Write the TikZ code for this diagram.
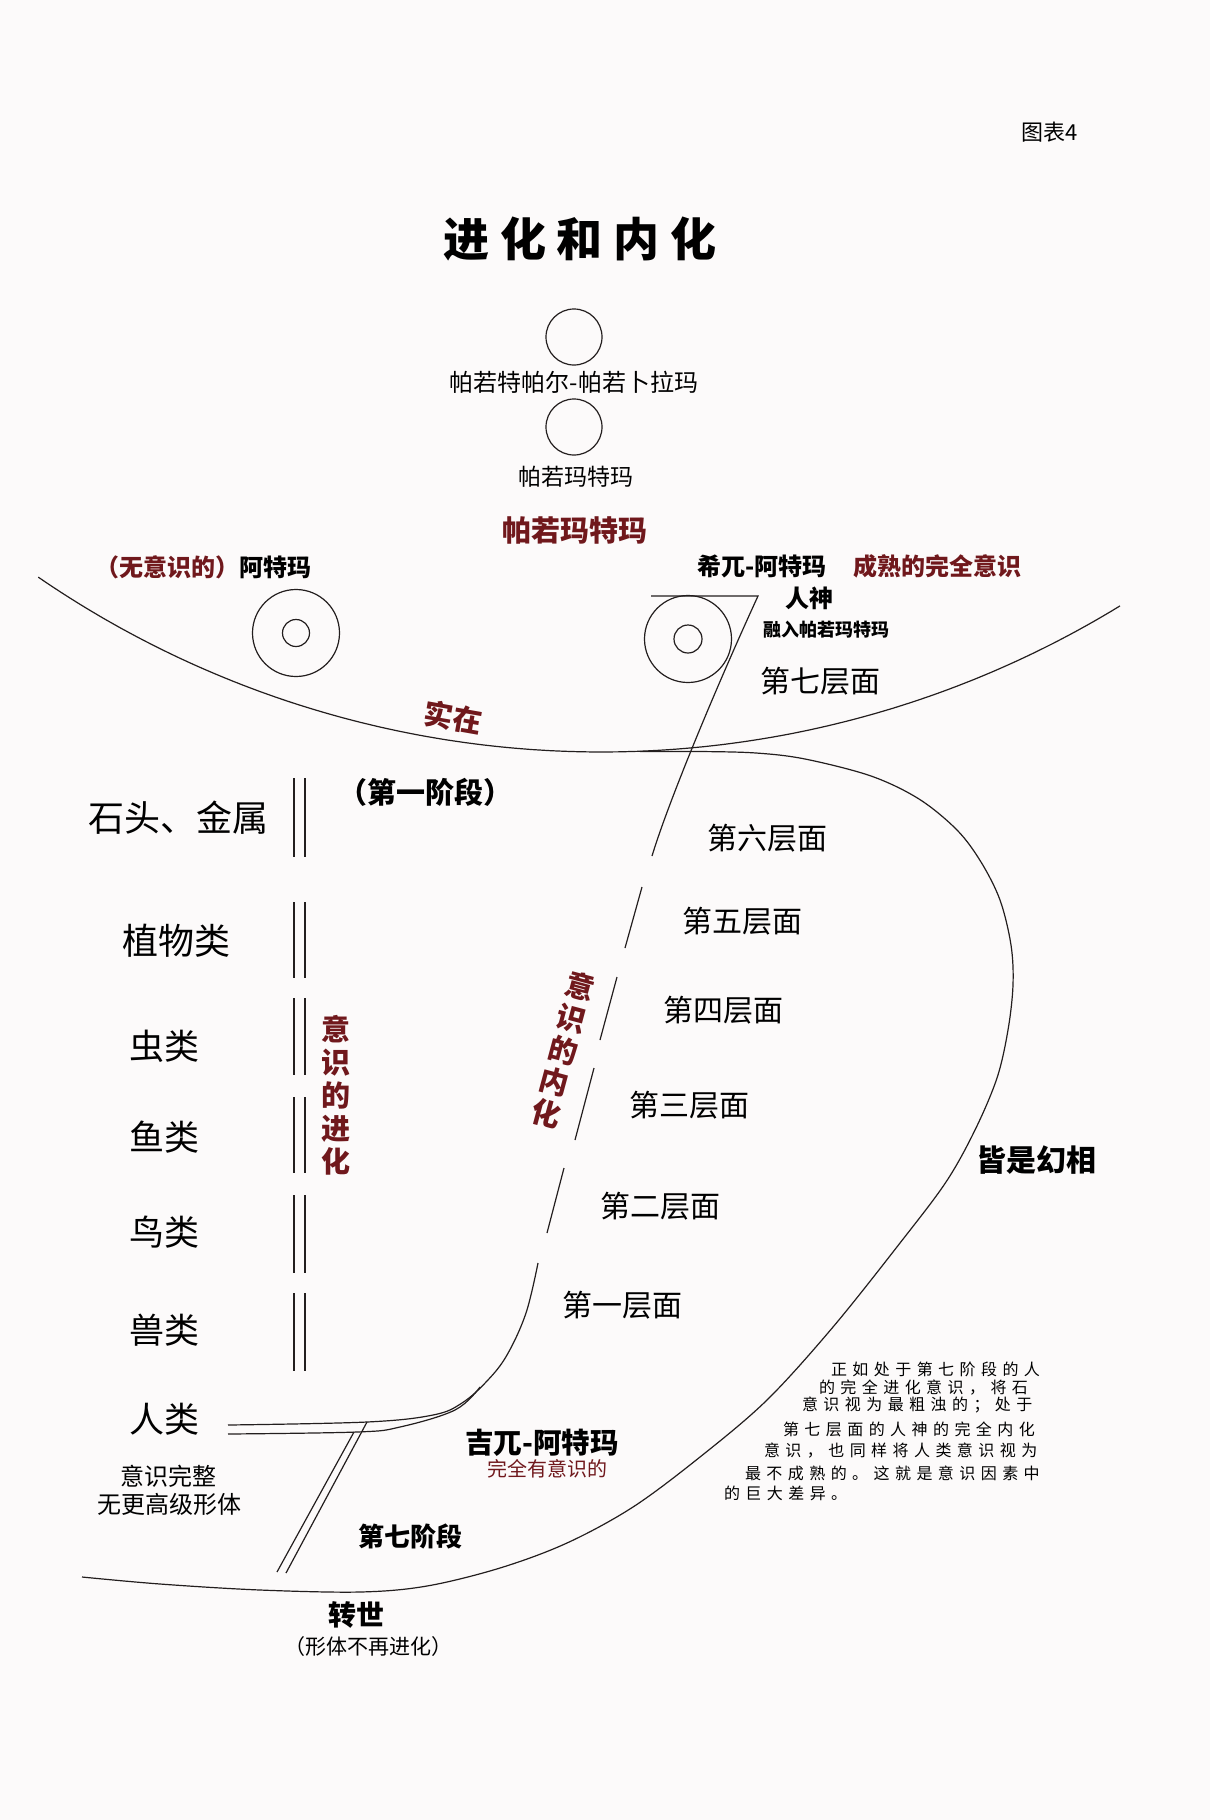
\documentclass[tikz,border=0pt]{standalone}
\usepackage{fontspec}
\setmainfont{Noto Sans CJK SC}
\newfontfamily\titlefont[LetterSpace=23]{Noto Sans CJK SC}
\newfontfamily\parafont[LetterSpace=34]{Noto Sans CJK SC}
\definecolor{myred}{RGB}{112,24,28}
\definecolor{bgc}{RGB}{252,250,250}
\definecolor{linec}{RGB}{35,30,30}
\newcommand\myfs[1]{\fontsize{#1}{#1}\selectfont}
\tikzset{
  lbl/.style={inner sep=0pt, outer sep=0pt, text=black},
  redlbl/.style={lbl, text=myred},
  ln/.style={draw=linec, line width=0.6pt},
  ring/.style={circle, draw=linec, line width=0.6pt, inner sep=0pt}
}
\begin{document}
\begin{tikzpicture}[x=0.5pt,y=-0.5pt]
\fill[bgc] (0,0) rectangle (1210,1820);
\useasboundingbox (0,0) rectangle (1210,1820);

% ---- title area
\node[lbl, font={\myfs{11pt}}] (fig) at (1050,132) {图表4};
\node[lbl, font={\titlefont\bfseries\myfs{23pt}}] (title) at (580,239) {进化和内化};

\node[ring, minimum size=28pt] (c1) at (574,337) {};
\node[lbl, font={\myfs{12pt}}] (c1lbl) at (574,382) {帕若特帕尔-帕若卜拉玛};
\node[ring, minimum size=28pt] (c2) at (574,427) {};
\node[lbl, font={\myfs{11.5pt}}] (c2lbl) at (576,477) {帕若玛特玛};
\node[redlbl, font={\bfseries\myfs{14.5pt}}] (pm) at (575,530) {帕若玛特玛};

% ---- upper labels
\node[lbl, font={\bfseries\myfs{12pt}}] (atma) at (203,567) {{\color{myred}（无意识的）}阿特玛};
\node[lbl, font={\bfseries\myfs{12pt}}] (shiva) at (762,566) {希兀-阿特玛};
\node[redlbl, font={\bfseries\myfs{12pt}}] (mature) at (937,566) {成熟的完全意识};
\node[lbl, font={\bfseries\myfs{12pt}}] (rs) at (809,598) {人神};
\node[lbl, font={\bfseries\myfs{9pt}}] (merge) at (826,630) {融入帕若玛特玛};

% ---- double circles
\node[ring, minimum size=43.5pt] (lo) at (296,633) {};
\node[ring, minimum size=13.5pt] (li) at (296,633) {};
\node[ring, minimum size=43.5pt] (ro) at (688,639) {};
\node[ring, minimum size=14pt] (ri) at (688,639) {};

% ---- big upper arc
\draw[ln] plot[domain=124.5:58.55, samples=120] ({601.3+994.1*cos(\x)}, {-242.1+994.1*sin(\x)});
\node[redlbl, font={\bfseries\myfs{14.5pt}}, rotate=-10] (real) at (453,717) {实在};

% ---- big lower curve
\draw[ln] plot[smooth, tension=0.55] coordinates {
 (640,751.5) (700,751.5) (756,753) (805,759) (871,776) (919,799) (957,830)
 (981,862) (1000,900) (1011,945) (1013,985) (1008,1030) (997,1078)
 (975,1130) (946,1182) (900,1243) (833,1327)
 (767,1400) (700,1457) (633,1507) (567,1543) (500,1568) (427,1586)
 (360,1592) (260,1590) (160,1584) (82,1577)};

% ---- inner path (consciousness involution)
\draw[ln] (651,596) -- (758,596) .. controls (718,683) and (669,800) .. (652,856);
\draw[ln] (642,887) -- (625,948);
\draw[ln] (617,977) -- (600,1040);
\draw[ln] (594,1068) -- (575,1140);
\draw[ln] (564,1168) -- (547,1233);
\draw[ln] plot[smooth, tension=0.6] coordinates {(538,1263) (526,1313) (507,1355) (487,1381) (462,1403) (433,1415) (367,1422) (228,1425)};
\draw[ln] plot[smooth, tension=0.6] coordinates {(480,1387) (455,1410) (400,1427) (357,1432) (228,1434)};
\draw[ln] (367,1422) -- (286,1573);
\draw[ln] (354,1432) -- (277,1572);

% ---- double vertical bars
\foreach \a/\b in {778/857, 902/978, 998/1075, 1097/1173, 1195/1273, 1293/1371} {
  \draw[ln] (294,\a) -- (294,\b);
  \draw[ln] (305,\a) -- (305,\b);
}

% ---- left labels
\node[lbl, font={\bfseries\myfs{14.5pt}}] (stage1) at (425,792) {（第一阶段）};
\node[lbl, font={\myfs{18pt}}] (stone) at (178,818) {石头、金属};
\node[lbl, font={\myfs{18pt}}] (plant) at (176,941) {植物类};
\node[lbl, font={\myfs{17.5pt}}] (insect) at (164,1046) {虫类};
\node[lbl, font={\myfs{17.5pt}}] (fish) at (164,1137) {鱼类};
\node[lbl, font={\myfs{17.5pt}}] (bird) at (164,1232) {鸟类};
\node[lbl, font={\myfs{17.5pt}}] (beast) at (164,1330) {兽类};
\node[lbl, font={\myfs{17.5pt}}] (human) at (164,1419) {人类};
\node[lbl, font={\myfs{12pt}}] (whole) at (168,1476) {意识完整};
\node[lbl, font={\myfs{12pt}}] (noform) at (169,1504) {无更高级形体};

\node[redlbl, font={\bfseries\fontsize{14.5pt}{16.5pt}\selectfont}, align=center] (evo) at (336,1095) {意\\识\\的\\进\\化};
\node[redlbl, font={\bfseries\fontsize{14.5pt}{16.5pt}\selectfont}, align=center, rotate=-15] (inv) at (563,1050) {意\\识\\的\\内\\化};

% ---- planes
\node[lbl, font={\myfs{15pt}}] (pl7) at (820,681) {第七层面};
\node[lbl, font={\myfs{15pt}}] (pl6) at (767,838) {第六层面};
\node[lbl, font={\myfs{15pt}}] (pl5) at (742,921) {第五层面};
\node[lbl, font={\myfs{15pt}}] (pl4) at (723,1010) {第四层面};
\node[lbl, font={\myfs{15pt}}] (pl3) at (689,1105) {第三层面};
\node[lbl, font={\myfs{15pt}}] (pl2) at (660,1206) {第二层面};
\node[lbl, font={\myfs{15pt}}] (pl1) at (622,1305) {第一层面};
\node[lbl, font={\bfseries\myfs{15pt}}] (illus) at (1036,1160) {皆是幻相};

% ---- bottom labels
\node[lbl, font={\bfseries\myfs{14.25pt}}] (jiva) at (542,1443) {吉兀-阿特玛};
\node[redlbl, font={\myfs{10pt}}] (fullc) at (547,1469) {完全有意识的};
\node[lbl, font={\bfseries\myfs{13pt}}] (stage7) at (410,1536) {第七阶段};
\node[lbl, font={\bfseries\myfs{14pt}}] (reinc) at (356,1615) {转世};
\node[lbl, font={\myfs{10.5pt}}] (noevo) at (368,1646) {（形体不再进化）};

% ---- paragraph
\begin{scope}[every node/.style={lbl, anchor=west, font={\parafont\myfs{8pt}}}]
\node (t1) at (831,1369) {正如处于第七阶段的人};
\node (t2) at (819,1388) {的完全进化意识，将石};
\node (t3) at (802,1405) {意识视为最粗浊的；处于};
\node (t4) at (783,1429) {第七层面的人神的完全内化};
\node (t5) at (764,1451) {意识，也同样将人类意识视为};
\node (t6) at (745,1473) {最不成熟的。这就是意识因素中};
\node (t7) at (724,1493) {的巨大差异。};
\end{scope}
\end{tikzpicture}
\end{document}
